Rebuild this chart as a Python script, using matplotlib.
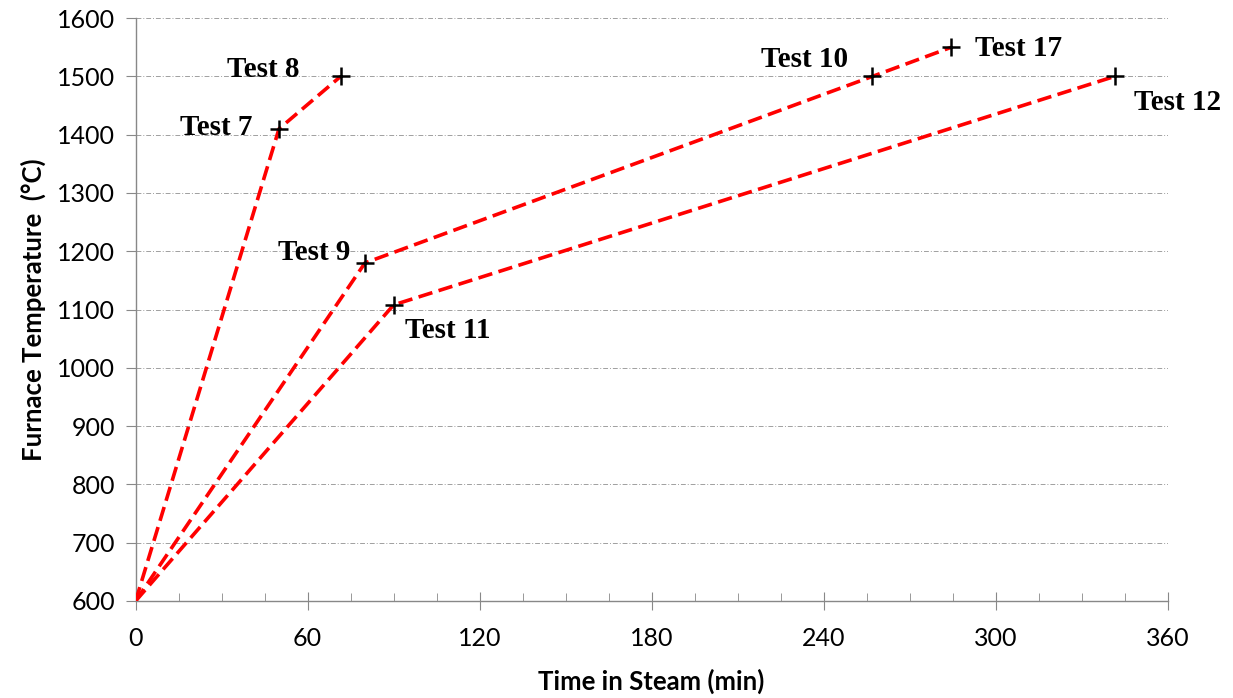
import matplotlib.pyplot as plt
from matplotlib.ticker import MultipleLocator

# furnace ramp paths, all starting from 600 C at t=0
path_a_time = [0, 50, 71.5]
path_a_temp = [600, 1410, 1500]
path_b_time = [0, 80, 257, 284.5]
path_b_temp = [600, 1180, 1500, 1550]
path_c_time = [0, 90, 341.5]
path_c_temp = [600, 1108, 1500]

test_names = ["Test 7", "Test 8", "Test 9", "Test 10", "Test 17", "Test 11", "Test 12"]
test_time = [50, 71.5, 80, 257, 284.5, 90, 341.5]
test_temp = [1410, 1500, 1180, 1500, 1550, 1108, 1500]
# label offsets in pixels and alignment
label_pos = [(-26, 1, "right"), (-41, 7, "right"), (-15, 10, "right"),
             (-24, 17, "right"), (24, -1, "left"), (11, -26, "left"), (19, -26, "left")]

plt.rcParams['font.family'] = ['Lato', 'DejaVu Sans']

fig = plt.figure(figsize=(12.33, 6.98), dpi=100)
ax = fig.add_axes([0.110, 0.139, 0.837, 0.835])

for t, v in [(path_a_time, path_a_temp), (path_b_time, path_b_temp), (path_c_time, path_c_temp)]:
    ax.plot(t, v, color="#ff0000", lw=2.6, ls=(0, (4, 1.8)), zorder=3)

ax.plot(test_time, test_temp, ls="none", marker="+", ms=13, mew=1.8, color="black", zorder=4)

for name, x, y, (dx, dy, ha) in zip(test_names, test_time, test_temp, label_pos):
    ax.annotate(name, (x, y), xytext=(dx, dy), textcoords="offset pixels",
                ha=ha, va="center", fontsize=21, fontweight="bold",
                family="Liberation Serif")

ax.set_xlim(0, 360)
ax.set_ylim(600, 1600)
ax.xaxis.set_major_locator(MultipleLocator(60))
ax.xaxis.set_minor_locator(MultipleLocator(15))
ax.yaxis.set_major_locator(MultipleLocator(100))

ax.grid(axis="y", color="#a0a0a0", ls=(0, (5, 2, 1, 2)), lw=0.7)
ax.set_axisbelow(True)

for s in ["top", "right"]:
    ax.spines[s].set_visible(False)
for s in ["left", "bottom"]:
    ax.spines[s].set_color("#888888")
    ax.spines[s].set_linewidth(1.0)

ax.tick_params(axis="x", which="major", direction="inout", length=13, color="#888888",
               labelsize=18, pad=12)
ax.tick_params(axis="x", which="minor", direction="in", length=6, color="#888888")
ax.tick_params(axis="y", which="major", direction="out", length=7, color="#888888",
               labelsize=18, pad=8)

ax.set_xlabel("Time in Steam (min)", fontsize=18.5, fontweight="bold", labelpad=14)
ax.set_ylabel("Furnace Temperature  (°C)", fontsize=18.5, fontweight="bold", labelpad=8)

fig.savefig("out.png", dpi=100)
